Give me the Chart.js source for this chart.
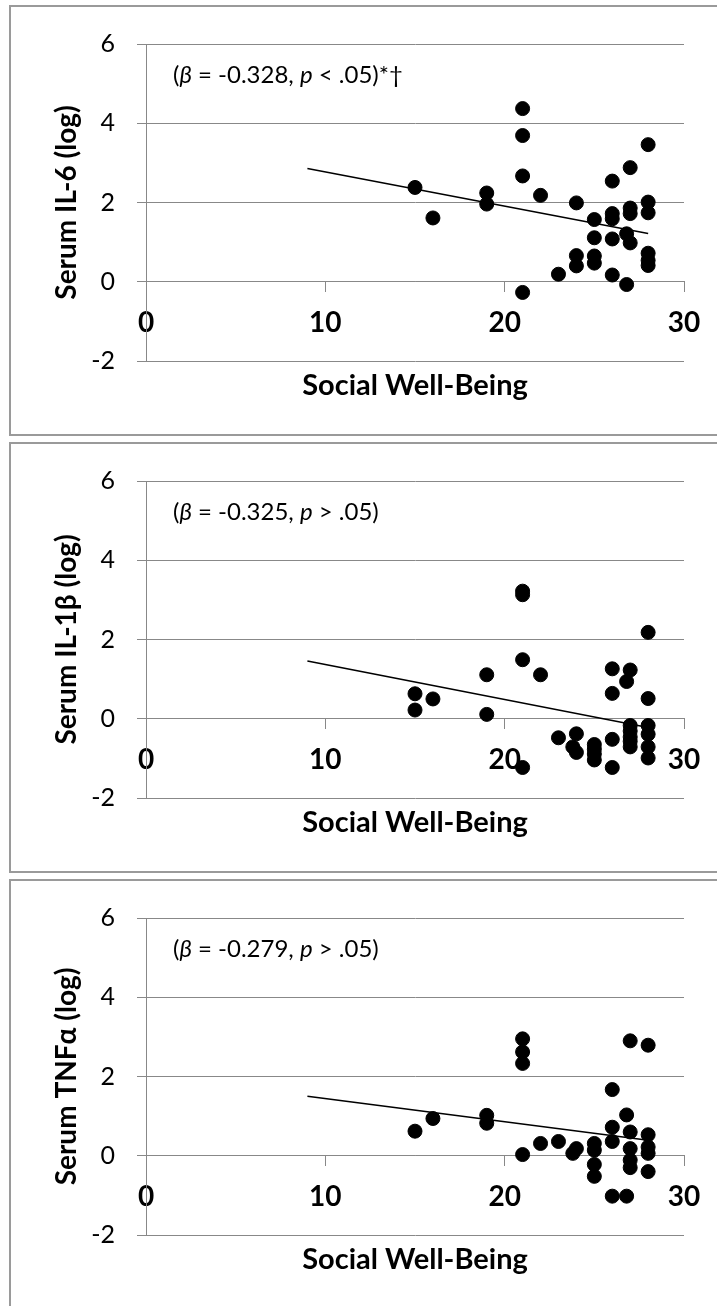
<!DOCTYPE html>
<html>
<head>
<meta charset="utf-8">
<script src="https://cdn.jsdelivr.net/npm/chart.js@4/dist/chart.umd.min.js"></script>
<style>
  html, body { margin: 0; padding: 0; background: #fff; overflow: hidden; width: 717px; height: 1306px; }
  .panel { position: absolute; left: 9px; width: 720px; height: 427px; border: 2px solid #9a9a9a; }
  .panel canvas { position: absolute; left: 0; top: 0; }
</style>
</head>
<body>
<div class="panel" style="top:5px"><canvas id="c1" width="706" height="427"></canvas></div>
<div class="panel" style="top:442px"><canvas id="c2" width="706" height="427"></canvas></div>
<div class="panel" style="top:879px"><canvas id="c3" width="706" height="427"></canvas></div>
<script>
// Social well-being scores (x) and log cytokine values (y)
var il6X = [15, 16, 19, 19, 21, 21, 21, 21, 22, 23, 24, 24, 24, 25, 25, 25, 25, 26, 26, 26, 26, 26, 27, 27, 27, 26.8, 27, 26.8, 28, 28, 28, 28, 28, 28];
var il6Y = [2.38, 1.61, 2.24, 1.96, 4.37, 3.69, 2.67, -0.27, 2.18, 0.19, 1.99, 0.66, 0.40, 1.57, 1.11, 0.65, 0.47, 2.54, 1.72, 1.59, 1.08, 0.17, 2.88, 1.86, 1.72, 1.21, 0.98, -0.07, 3.46, 2.01, 1.74, 0.72, 0.54, 0.41];

var il1bX = [15, 15, 16, 19, 19, 21, 21, 21, 21, 22, 23, 24, 23.8, 24, 25, 25, 25, 25, 26, 26, 26, 26, 27, 26.8, 27, 27, 27, 27, 27, 28, 28, 28, 28, 28, 28];
var il1bY = [0.63, 0.22, 0.50, 1.11, 0.11, 3.22, 3.13, 1.49, -1.23, 1.11, -0.48, -0.38, -0.71, -0.85, -0.65, -0.77, -0.89, -1.04, 1.26, 0.64, -0.52, -1.23, 1.23, 0.94, -0.17, -0.31, -0.46, -0.57, -0.71, 2.18, 0.51, -0.17, -0.39, -0.71, -0.99];

var tnfX = [15, 16, 19, 19, 21, 21, 21, 21, 22, 23, 23.8, 24, 25, 25, 25, 25, 26, 26, 26, 26, 27, 26.8, 27, 27, 27, 27, 26.8, 28, 28, 28, 28, 28];
var tnfY = [0.62, 0.94, 1.02, 0.82, 2.95, 2.62, 2.33, 0.03, 0.31, 0.36, 0.06, 0.18, 0.31, 0.14, -0.22, -0.52, 1.67, 0.72, 0.36, -1.02, 2.90, 1.03, 0.60, 0.18, -0.11, -0.30, -1.02, 2.79, 0.53, 0.22, 0.06, -0.40];

// trend lines: ends at x = 9 and x = 28
var trendX = [9, 28];
var il6Trend = [2.86, 1.22];
var il1bTrend = [1.46, -0.22];
var tnfTrend = [1.50, 0.39];

var yTitles = ["Serum IL-6 (log)", "Serum IL-1\u03B2 (log)", "Serum TNF\u03B1 (log)"];
var betas = ["-0.328", "-0.325", "-0.279"];
var pNotes = ["< .05)*\u2020", "> .05)", "> .05)"];
var xTitle = "Social Well-Being";

// draws "(β = ..., p ...)" with the greek/p in italics
var notePlugin = {
  id: "note",
  afterDatasetsDraw: function (chart, args, opts) {
    var ctx = chart.ctx;
    var parts = [
      { t: "(", i: false },
      { t: "\u03B2", i: true },
      { t: " = " + opts.beta + ", ", i: false },
      { t: "p", i: true },
      { t: " " + opts.p, i: false }
    ];
    var x = chart.chartArea.left + 27;
    var y = chart.chartArea.top + 31;
    ctx.save();
    ctx.fillStyle = "#000";
    ctx.textBaseline = "middle";
    parts.forEach(function (p) {
      ctx.font = (p.i ? "italic " : "") + "24px Lato";
      ctx.fillText(p.t, x, y);
      x += ctx.measureText(p.t).width;
    });
    ctx.restore();
  }
};

function makeChart(id, xs, ys, trend, idx) {
  var points = xs.map(function (x, i) { return { x: x, y: ys[i] }; });
  var line = trendX.map(function (x, i) { return { x: x, y: trend[i] }; });
  new Chart(document.getElementById(id), {
    type: "scatter",
    data: {
      datasets: [
        { type: "line", data: line, borderColor: "#000", borderWidth: 1.5, pointRadius: 0, order: 0 },
        { data: points, backgroundColor: "#000", borderColor: "#000", pointRadius: 7, pointHoverRadius: 7, order: 1 }
      ]
    },
    options: {
      responsive: false,
      animation: false,
      layout: { padding: { top: 32, right: 33, left: 0, bottom: 0 } },
      plugins: {
        legend: { display: false },
        tooltip: { enabled: false },
        note: { beta: betas[idx], p: pNotes[idx] }
      },
      scales: {
        x: {
          type: "linear", position: "bottom", min: 0, max: 30,
          ticks: { display: false },
          grid: { display: false },
          border: { display: false },
          title: { display: true, text: xTitle, color: "#000", font: { family: "Lato", size: 29, weight: "bold" }, padding: { top: 0, bottom: 31 } },
          afterFit: function (s) { s.height = 73; }
        },
        x2: {
          type: "linear", position: { y: 0 }, min: 0, max: 30,
          ticks: { stepSize: 10, maxRotation: 0, color: "#000", padding: 14, font: { family: "Lato", size: 28, weight: "bold" } },
          grid: { drawOnChartArea: false, drawTicks: true, tickLength: 10, color: "#888" },
          border: { display: true, color: "#888" }
        },
        y: {
          min: -2, max: 6,
          ticks: { stepSize: 2, color: "#000", padding: 22, font: { family: "Lato", size: 25 } },
          grid: { color: "#888", tickLength: 9 },
          border: { color: "#888" },
          title: { display: true, text: yTitles[idx], color: "#000", font: { family: "Lato", size: 28, weight: "bold" }, padding: { top: 39, bottom: 0 } },
          afterFit: function (s) { s.width = 135; }
        }
      }
    },
    plugins: [notePlugin]
  });
}

makeChart("c1", il6X, il6Y, il6Trend, 0);
makeChart("c2", il1bX, il1bY, il1bTrend, 1);
makeChart("c3", tnfX, tnfY, tnfTrend, 2);
</script>
</body>
</html>
